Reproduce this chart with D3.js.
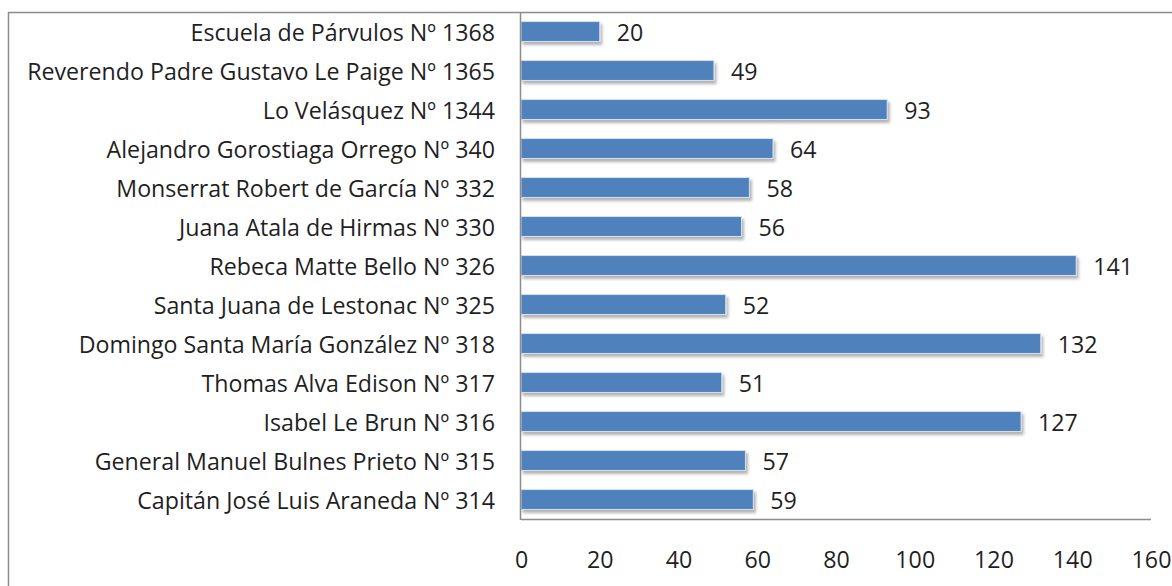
<!DOCTYPE html>
<html>
<head>
<meta charset="utf-8">
<script src="https://cdn.jsdelivr.net/npm/d3@7"></script>
<style>
  html, body { margin: 0; padding: 0; background: #fff; overflow: hidden; }
  svg { display: block; }
  text { font-family: "Open Sans", sans-serif; fill: #1f1f1f; }
</style>
</head>
<body>
<div class="chart"></div>
<script>
const schools = [
  'Escuela de Párvulos Nº 1368',
  'Reverendo Padre Gustavo Le Paige Nº 1365',
  'Lo Velásquez Nº 1344',
  'Alejandro Gorostiaga Orrego Nº 340',
  'Monserrat Robert de García Nº 332',
  'Juana Atala de Hirmas Nº 330',
  'Rebeca Matte Bello Nº 326',
  'Santa Juana de Lestonac Nº 325',
  'Domingo Santa María González Nº 318',
  'Thomas Alva Edison Nº 317',
  'Isabel Le Brun Nº 316',
  'General Manuel Bulnes Prieto Nº 315',
  'Capitán José Luis Araneda Nº 314'
];
const counts = [20, 49, 93, 64, 58, 56, 141, 52, 132, 51, 127, 57, 59];
const xTicks = [0, 20, 40, 60, 80, 100, 120, 140, 160];

const W = 1172, H = 586;
const plotLeft = 521, plotRight = 1151, plotTop = 12, plotBottom = 519;
const fontSize = '23.2px';

const svg = d3.select('.chart').append('svg')
  .attr('width', W).attr('height', H);

const defs = svg.append('defs');
const f = defs.append('filter').attr('id', 'shadow')
  .attr('x', '-5%').attr('y', '-30%').attr('width', '115%').attr('height', '190%');
f.append('feDropShadow')
  .attr('dx', 2).attr('dy', 3).attr('stdDeviation', 1.6)
  .attr('flood-color', '#000').attr('flood-opacity', 0.3);

// outer frame
svg.append('rect')
  .attr('x', 8.5).attr('y', 12.5)
  .attr('width', W + 20).attr('height', H + 20)
  .attr('fill', 'none').attr('stroke', '#8c8c8c').attr('stroke-width', 1.5);

const x = d3.scaleLinear().domain([0, 160]).range([plotLeft, plotRight]);
const y = d3.scaleBand().domain(schools).range([plotTop, plotBottom]).paddingInner(0.49).paddingOuter(0.245);

// bottom axis line
svg.append('line')
  .attr('x1', plotLeft).attr('x2', plotRight)
  .attr('y1', plotBottom + 0.5).attr('y2', plotBottom + 0.5)
  .attr('stroke', '#8c8c8c').attr('stroke-width', 1.5);

// bars
svg.append('g').selectAll('rect')
  .data(counts)
  .join('rect')
  .attr('x', x(0))
  .attr('y', (d, i) => y(schools[i]))
  .attr('width', d => x(d) - x(0))
  .attr('height', y.bandwidth())
  .attr('fill', '#4f81bd')
  .attr('stroke', '#d6e0ef')
  .attr('stroke-width', 1)
  .attr('filter', 'url(#shadow)');

// vertical axis line
svg.append('line')
  .attr('x1', plotLeft - 0.5).attr('x2', plotLeft - 0.5)
  .attr('y1', plotTop).attr('y2', plotBottom + 1)
  .attr('stroke', '#8c8c8c').attr('stroke-width', 1.5);

// value labels
svg.append('g').selectAll('text')
  .data(counts)
  .join('text')
  .attr('x', d => x(d) + 17)
  .attr('y', (d, i) => y(schools[i]) + y.bandwidth() / 2)
  .attr('dy', '0.4em')
  .style('font-size', fontSize)
  .text(d => d);

// category labels
const yAxis = svg.append('g')
  .attr('transform', `translate(${plotLeft},0)`)
  .call(d3.axisLeft(y).tickSize(0).tickPadding(26));
yAxis.select('.domain').remove();
yAxis.selectAll('text')
  .attr('dy', '0.4em')
  .style('font-size', fontSize)
  .style('font-family', '"Open Sans", sans-serif')
  .attr('fill', '#1f1f1f');

// x tick labels
const xAxis = svg.append('g')
  .attr('transform', `translate(0,${plotBottom})`)
  .call(d3.axisBottom(x).tickValues(xTicks).tickSize(0).tickPadding(33));
xAxis.select('.domain').remove();
xAxis.selectAll('text')
  .style('font-size', fontSize)
  .style('font-family', '"Open Sans", sans-serif')
  .attr('fill', '#1f1f1f');
</script>
</body>
</html>
